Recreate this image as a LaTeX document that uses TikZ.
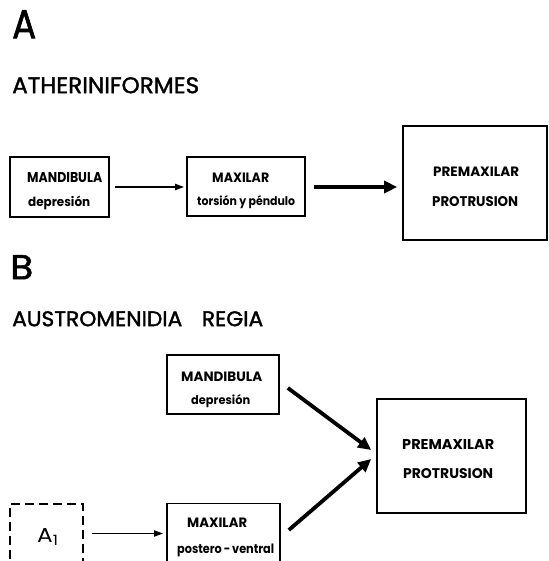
\documentclass[tikz,border=0pt]{standalone}
\usepackage{fontspec}
\setmainfont{Poppins}
\newfontfamily\headfont{Poppins}[UprightFeatures={FakeBold=1.6}]
\usetikzlibrary{arrows.meta,calc}
\newcommand{\fitcaps}[3]{\resizebox{#1pt}{#2pt}{#3}}
\begin{document}
\begin{tikzpicture}[x=1pt,y=-1pt,
  box/.style={draw,line width=1.7pt,inner sep=0pt,rectangle},
  dbox/.style={box,dash pattern=on 9pt off 5pt},
  lab/.style={inner sep=0pt,anchor=north west},
  low/.style={inner sep=0pt,anchor=base west},
  thinarrow/.style={line width=1.8pt,-{Triangle[length=9pt,width=6pt]}},
  thickarrow/.style={line width=3.8pt,-{Triangle[length=13pt,width=12pt]}}]
\useasboundingbox (0,0) rectangle (548,561);
\clip (0,0) rectangle (548,561);

% headings
\node[lab] (hA) at (12,10) {\fitcaps{24}{28}{\headfont A}};
\node[lab] (tA) at (12,77) {\fitcaps{187}{16}{\headfont ATHERINIFORMES}};
\node[lab] (hB) at (10,255) {\fitcaps{23}{24}{\headfont B}};
\node[lab] (tB) at (12,311) {\fitcaps{251}{15}{\headfont AUSTROMENIDIA\hspace{0.9em}REGIA}};

% part A boxes
\node[box,minimum width=99pt,minimum height=60pt] (mandA) at (59.5,187) {};
\node[box,minimum width=118pt,minimum height=59pt] (maxA) at (246,186.5) {};
\node[box,minimum width=144pt,minimum height=114pt] (premA) at (475,183) {};

\node[lab] (mandAt) at (27,172) {\bfseries\fitcaps{75}{10}{MANDIBULA}};
\node[low] (mandAs) at (28,206) {\bfseries\fitcaps{62}{10.5}{depresión}};
\node[lab] (maxAt) at (212,173) {\bfseries\fitcaps{57}{9.5}{MAXILAR}};
\node[low] (maxAs) at (197,205) {\bfseries\fitcaps{98}{10}{torsión y péndulo}};
\node[lab] (premAt) at (433,167) {\bfseries\fitcaps{86}{9.5}{PREMAXILAR}};
\node[lab] (premAs) at (432,196) {\bfseries\fitcaps{86}{10}{PROTRUSION}};

\draw[thinarrow] ($(mandA.east)+(5,0)$) -- ($(maxA.west|-mandA.east)+(-2,0)$);
\draw[thickarrow] ($(maxA.east)+(8,0.5)$) -- ($(premA.west|-maxA.east)+(-5,0.5)$);

% part B boxes
\node[box,minimum width=112pt,minimum height=59pt] (mandB) at (223,384.5) {};
\node[box,minimum width=149pt,minimum height=114pt] (premB) at (451.5,456) {};
\node[dbox,minimum width=73pt,minimum height=60pt] (a1) at (46.5,534) {};
\node[box,minimum width=113pt,minimum height=60pt] (maxB) at (223.5,533.5) {};

\node[lab] (mandBt) at (181,372) {\bfseries\fitcaps{81}{9.5}{MANDIBULA}};
\node[low] (mandBs) at (191,404) {\bfseries\fitcaps{59}{10}{depresión}};
\node[lab] (premBt) at (402,439) {\bfseries\fitcaps{92}{10}{PREMAXILAR}};
\node[lab] (premBs) at (403,468) {\bfseries\fitcaps{90}{10}{PROTRUSION}};
\node[lab] (maxBt) at (187,518) {\bfseries\fitcaps{60}{9.5}{MAXILAR}};
\node[low] (maxBs) at (177,553) {\bfseries\fitcaps{97}{9.5}{postero\,-\,ventral}};
\node[low] (a1t) at (37,542) {\fitcaps{22}{14}{A\textsubscript{1}}};

\draw[thinarrow] ($(a1.east)+(8,-0.5)$) -- ($(maxB.west|-a1.east)+(-3,-0.5)$);
\draw[thickarrow] ($(mandB.east)+(8,3.5)$) -- ($(premB.west)+(-5,-6)$);
\draw[thickarrow] ($(maxB.east)+(8,-3.5)$) -- ($(premB.west)+(-5,3)$);
\end{tikzpicture}
\end{document}
